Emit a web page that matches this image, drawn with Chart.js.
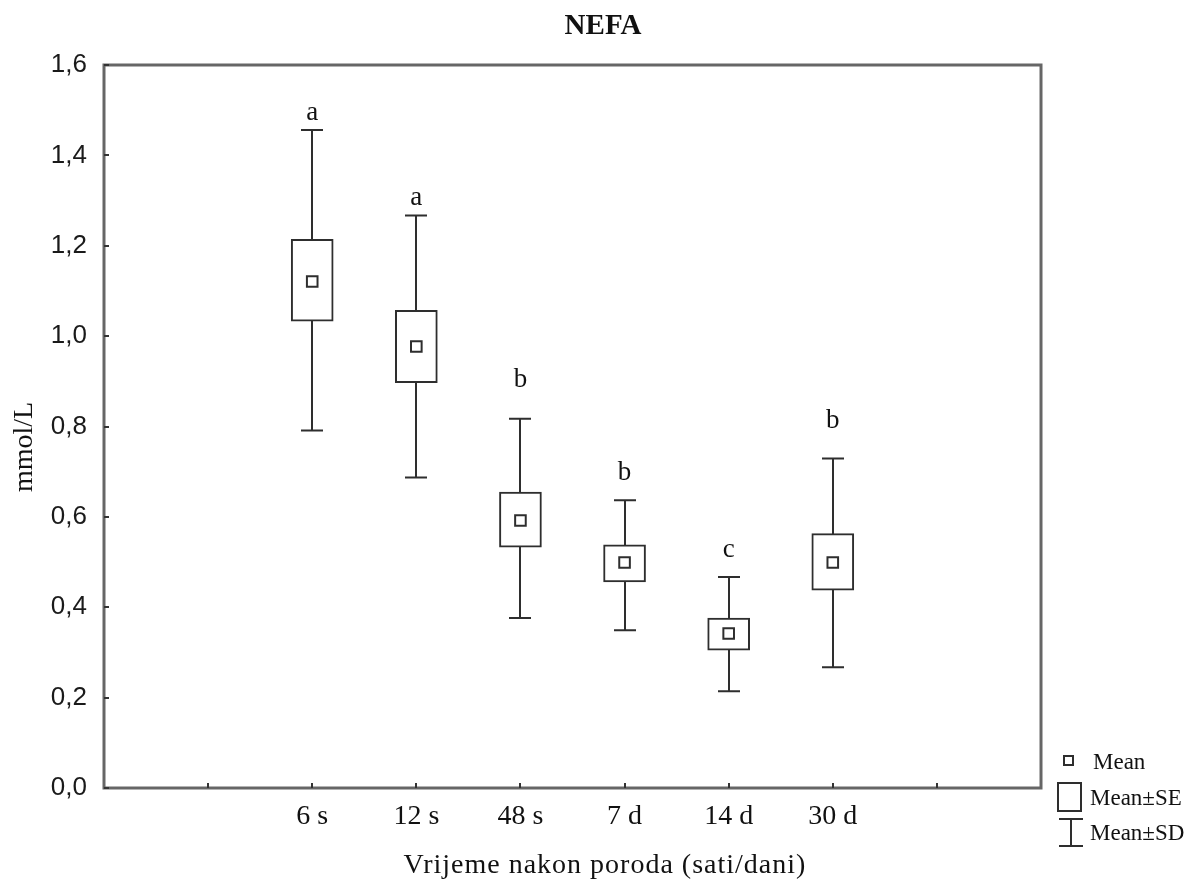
<!DOCTYPE html>
<html>
<head>
<meta charset="utf-8">
<script src="https://cdn.jsdelivr.net/npm/chart.js@4.4.1/dist/chart.umd.min.js"></script>
<style>
html,body{margin:0;padding:0;background:#fff;}
#wrap{width:1195px;height:890px;position:relative;}
</style>
</head>
<body>
<div id="wrap"><canvas id="c" width="1195" height="890"></canvas></div>
<script>
// ---- data ----
const categories = ['6 s', '12 s', '48 s', '7 d', '14 d', '30 d'];
const meanVals   = [1.121, 0.977, 0.592, 0.499, 0.342, 0.499];
const seLow      = [1.033, 0.897, 0.533, 0.456, 0.305, 0.438];
const seHigh     = [1.214, 1.057, 0.655, 0.538, 0.376, 0.563];
const sdLow      = [0.791, 0.687, 0.376, 0.349, 0.214, 0.267];
const sdHigh     = [1.456, 1.267, 0.817, 0.637, 0.467, 0.729];
const letters    = ['a', 'a', 'b', 'b', 'c', 'b'];
const letterPos  = [1.494, 1.306, 0.904, 0.698, 0.528, 0.812];
const yTicks     = [0, 0.2, 0.4, 0.6, 0.8, 1.0, 1.2, 1.4, 1.6];
const titleText  = 'NEFA';
const xTitle     = 'Vrijeme nakon poroda (sati/dani)';
const yTitle     = 'mmol/L';
const legendItems = ['Mean', 'Mean\u00B1SE', 'Mean\u00B1SD'];

// axis has two empty slots on each side of the categories
const xLabels = ['', ''].concat(categories, ['', '']);
const pad = arr => [null, null].concat(arr, [null, null]);
const seData = pad(categories.map((c, i) => [seLow[i], seHigh[i]]));
const meanData = pad(meanVals);

const LINE = '#2e2e2e';
const FRAME = '#666666';

const decor = {
  id: 'decor',
  beforeDatasetsDraw(chart) {
    const ctx = chart.ctx, xs = chart.scales.x, ys = chart.scales.y;
    ctx.save();
    ctx.strokeStyle = LINE;
    ctx.lineWidth = 2;
    categories.forEach((c, i) => {
      const x = Math.round(xs.getPixelForValue(i + 2));
      const yt = ys.getPixelForValue(sdHigh[i]);
      const yb = ys.getPixelForValue(sdLow[i]);
      ctx.beginPath();
      ctx.moveTo(x, yt); ctx.lineTo(x, yb);
      ctx.moveTo(x - 11, yt); ctx.lineTo(x + 11, yt);
      ctx.moveTo(x - 11, yb); ctx.lineTo(x + 11, yb);
      ctx.stroke();
    });
    ctx.restore();
  },
  afterDraw(chart) {
    const ctx = chart.ctx, xs = chart.scales.x, ys = chart.scales.y;
    const a = chart.chartArea;
    ctx.save();
    // frame
    ctx.strokeStyle = FRAME;
    ctx.lineWidth = 3;
    ctx.strokeRect(a.left, a.top, a.right - a.left, a.bottom - a.top);
    // inward ticks
    ctx.lineWidth = 2;
    ctx.strokeStyle = '#333';
    ctx.beginPath();
    yTicks.forEach(v => {
      const y = Math.round(ys.getPixelForValue(v));
      ctx.moveTo(a.left, y); ctx.lineTo(a.left + 5, y);
    });
    for (let k = 1; k <= xLabels.length - 2; k++) {
      const x = Math.round(xs.getPixelForValue(k));
      ctx.moveTo(x, a.bottom); ctx.lineTo(x, a.bottom - 5);
    }
    ctx.stroke();
    // significance letters
    ctx.fillStyle = '#111';
    ctx.font = '27px "Liberation Serif", "Times New Roman", serif';
    ctx.textAlign = 'center';
    ctx.textBaseline = 'middle';
    letters.forEach((l, i) => {
      ctx.fillText(l, xs.getPixelForValue(i + 2), ys.getPixelForValue(letterPos[i]));
    });
    // title
    ctx.font = 'bold 29px "Liberation Serif", "Times New Roman", serif';
    ctx.fillText(titleText, 603, 27);
    // x title
    ctx.font = '28px "Liberation Serif", "Times New Roman", serif';
    ctx.letterSpacing = '1px';
    ctx.fillText(xTitle, 605, 866);
    ctx.letterSpacing = '0px';
    // y title
    ctx.save();
    ctx.translate(25, 447);
    ctx.rotate(-Math.PI / 2);
    ctx.fillText(yTitle, 0, 0);
    ctx.restore();
    // legend
    ctx.strokeStyle = LINE;
    ctx.lineWidth = 2;
    ctx.fillStyle = '#fff';
    ctx.strokeRect(1064, 756, 9, 9);
    ctx.strokeRect(1058, 783, 23, 28);
    ctx.beginPath();
    ctx.moveTo(1059, 819); ctx.lineTo(1083, 819);
    ctx.moveTo(1071, 819); ctx.lineTo(1071, 846);
    ctx.moveTo(1059, 846); ctx.lineTo(1083, 846);
    ctx.stroke();
    ctx.fillStyle = '#111';
    ctx.font = '23px "Liberation Serif", "Times New Roman", serif';
    ctx.textAlign = 'left';
    ctx.fillText(legendItems[0], 1093, 763);
    ctx.fillText(legendItems[1], 1090, 799);
    ctx.fillText(legendItems[2], 1090, 834);
    ctx.restore();
  }
};

new Chart(document.getElementById('c'), {
  data: {
    labels: xLabels,
    datasets: [
      {
        type: 'bar',
        label: 'Mean\u00B1SE',
        data: seData,
        backgroundColor: '#ffffff',
        borderColor: LINE,
        borderWidth: 2,
        borderSkipped: false,
        barThickness: 42,
        order: 2
      },
      {
        type: 'line',
        label: 'Mean',
        data: meanData,
        showLine: false,
        pointStyle: 'rect',
        pointRadius: 7.5,
        pointBorderWidth: 2,
        pointBackgroundColor: '#ffffff',
        pointBorderColor: LINE,
        order: 1
      }
    ]
  },
  options: {
    responsive: false,
    animation: false,
    devicePixelRatio: 1,
    layout: { padding: { left: 0, right: 154, top: 65, bottom: 0 } },
    plugins: { legend: { display: false }, title: { display: false }, tooltip: { enabled: false } },
    scales: {
      x: {
        type: 'category',
        offset: false,
        grid: { display: false, drawTicks: false },
        border: { display: false },
        ticks: {
          autoSkip: false,
          maxRotation: 0,
          padding: 12,
          color: '#111',
          font: { family: '"Liberation Serif", "Times New Roman", serif', size: 28 }
        },
        afterFit(s) { s.height = 102; }
      },
      y: {
        min: 0,
        max: 1.6,
        grid: { display: false, drawTicks: false },
        border: { display: false },
        afterBuildTicks(s) { s.ticks = yTicks.map(v => ({ value: v })); },
        ticks: {
          padding: 17,
          color: '#1a1a1a',
          font: { family: '"Liberation Sans", Arial, sans-serif', size: 26 },
          callback: v => Number(v).toFixed(1).replace('.', ',')
        },
        afterFit(s) { s.width = 104; }
      }
    }
  },
  plugins: [decor]
});
</script>
</body>
</html>
